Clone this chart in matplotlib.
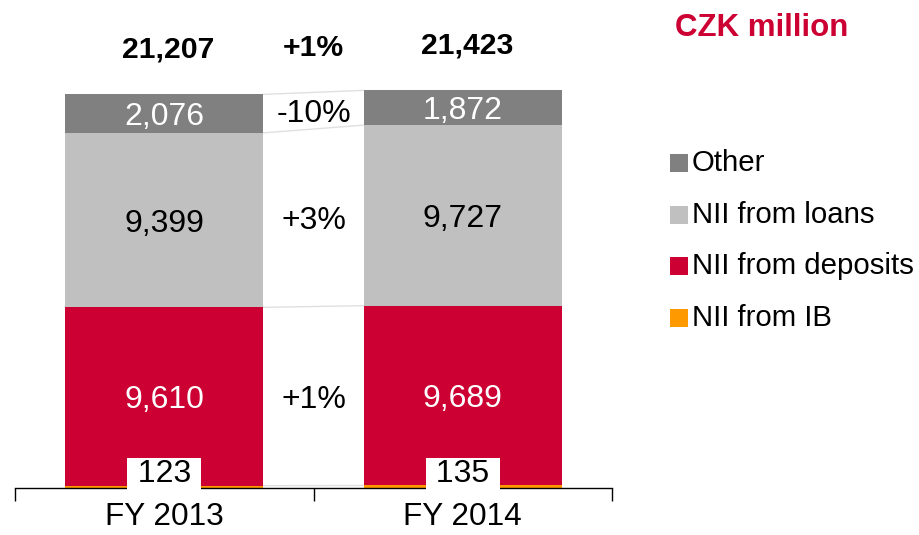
"""
Stacked NII bars, FY 2013 vs FY 2014 (CZK million)
"""

import numpy as np
import matplotlib
matplotlib.use("Agg")
import matplotlib.pyplot as plt
from matplotlib.patches import Rectangle

plt.rcParams["font.family"] = ["Liberation Sans", "DejaVu Sans"]

years = ["FY 2013", "FY 2014"]
segments = ["NII from IB", "NII from deposits", "NII from loans", "Other"]
nii_ib = [123, 135]
nii_deposits = [9610, 9689]
nii_loans = [9399, 9727]
other = [2076, 1872]
totals = [21207, 21423]
changes = ["+1%", "+3%", "-10%"]   # deposits, loans, other
total_change = "+1%"

colors = ["#ff9900", "#cc0033", "#c0c0c0", "#808080"]
label_colors = [None, "white", "black", "white"]

values = np.array([nii_ib, nii_deposits, nii_loans, other], dtype=float)
x = np.arange(len(years))
w = 0.663

fig = plt.figure(figsize=(9.19, 5.35), dpi=100)
ax = fig.add_axes([15 / 919, 47 / 535, 597 / 919, 488 / 535])

bottoms = np.zeros(len(years))
for vals, col, lc in zip(values, colors, label_colors):
    ax.bar(x, vals, w, bottom=bottoms, color=col, edgecolor="none", zorder=2)
    if lc is not None:
        for xi, b, v in zip(x, bottoms, vals):
            ax.text(xi, b + v / 2, f"{int(v):,}", ha="center", va="center_baseline",
                    color=lc, fontsize=23, zorder=4)
    bottoms = bottoms + vals

# connector lines between the bars at each segment boundary
cum = np.cumsum(values, axis=0)
for row in cum:
    ax.plot([x[0] + w / 2, x[1] - w / 2], [row[0], row[1]], color="#e0e0e0", lw=1, zorder=1)

# change labels between bars
starts = np.vstack([np.zeros(len(years)), cum[:-1]])
mids = (starts + cum) / 2
for i, txt in zip(range(1, 4), changes):
    ax.text(0.5, mids[i].mean(), txt, ha="center", va="center_baseline", fontsize=23,
            color="black")

# small IB values in white boxes near the baseline
for xi, v in zip(x, nii_ib):
    ax.annotate(f" {v} ", (xi, 0), xytext=(0, 10), textcoords="offset points",
                ha="center", va="center", fontsize=23, zorder=6,
                bbox=dict(boxstyle="square,pad=0.05", fc="white", ec="none"),
                annotation_clip=False)

# totals
for xi, t in zip(x, totals):
    ax.annotate(f"{t:,}", (xi, t), xytext=(3, 32), textcoords="offset points",
                ha="center", va="center", fontsize=21.7, fontweight="bold")
ax.annotate(total_change, (0.5, np.mean(totals)), xytext=(0, 32), textcoords="offset points",
            ha="center", va="center", fontsize=21.7, fontweight="bold")

ax.set_xlim(-0.5, 1.5)
ax.set_ylim(0, 488 / 0.01856)
for s in ["top", "right", "left"]:
    ax.spines[s].set_visible(False)
ax.spines["bottom"].set_linewidth(1)
ax.spines["bottom"].set_zorder(3)
ax.set_yticks([])
ax.set_xticks([-0.5, 0.5, 1.5])
ax.set_xticklabels([])
ax.tick_params(axis="x", which="major", length=9, width=1, direction="out")
ax.set_xticks(x, minor=True)
ax.set_xticklabels(years, minor=True, fontsize=22.7)
ax.tick_params(axis="x", which="minor", length=0, pad=10)

fig.text(762 / 919, 1 - 28 / 535, "CZK million", color="#cc0033", fontsize=22.5,
         fontweight="bold", ha="center", va="center")

# legend (top to bottom: Other, loans, deposits, IB)
leg_y = [163, 215, 266, 318]
for lab, col, yp in zip(segments[::-1], colors[::-1], leg_y):
    fig.patches.append(Rectangle((670 / 919, 1 - (yp + 9) / 535), 18 / 919, 18 / 535,
                                 transform=fig.transFigure, facecolor=col, edgecolor="none"))
    fig.text(692 / 919, 1 - yp / 535, lab, fontsize=21.2, ha="left", va="center")

plt.savefig("out.png", dpi=100)
